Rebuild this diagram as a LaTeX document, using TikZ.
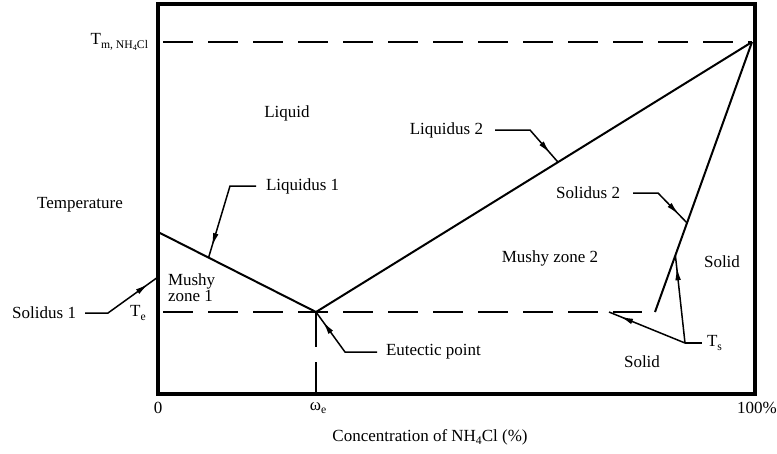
\documentclass[tikz,border=0pt]{standalone}
\usepackage{fontspec}
\setmainfont{Liberation Serif}
\usetikzlibrary{arrows.meta, calc, decorations.markings}

\newcommand{\lsub}[1]{\raisebox{-0.45ex}{\scriptsize #1}}
\newcommand{\llsub}[1]{\raisebox{-0.35ex}{\tiny #1}}

\begin{document}
\begin{tikzpicture}[
  x=0.6pt, y=-0.6pt,
  font=\fontsize{10.2}{9.6}\selectfont,
  frame/.style={line width=2pt},
  curve/.style={line width=1.2pt},
  guide/.style={line width=1.4pt, dash pattern=on 18pt off 9pt, dash phase=24pt},
  eutguide/.style={line width=1.1pt, dash pattern=on 21pt off 9pt},
  leader/.style={line width=0.9pt, postaction={decorate},
    decoration={markings,
      mark=at position #1 with {\arrow{Latex[length=8pt,width=3.4pt]}}}},
  leader/.default=-7pt,
  lbl/.style={inner sep=1pt}
]
  \useasboundingbox (0,0) rectangle (777,453);

  % frame of the diagram
  \draw[frame] (158,4) rectangle (755,394);

  % key points
  \coordinate (liqtop)  at (158,232);
  \coordinate (eut)     at (316,312);
  \coordinate (melt)    at (752,42);
  \coordinate (sol2end) at (655,312);
  \coordinate (tmstart) at (158,42);
  \coordinate (testart) at (158,312);
  \coordinate (teend)   at (642,312);
  \coordinate (eutbase) at (316,394);

  % guide lines (melting point, eutectic temperature, eutectic concentration)
  \draw[guide] (tmstart) -- (melt);
  \draw[guide] (testart) -- (teend);
  \draw[eutguide] (eut) -- (eutbase);

  % liquidus and solidus curves
  \draw[curve] (liqtop) -- (eut);
  \draw[curve] (eut) -- (melt);
  \draw[curve] (melt) -- (sol2end);

  % points hit by the leaders
  \coordinate (liq1hit) at ($(liqtop)!0.32!(eut)$);
  \coordinate (liq2hit) at ($(eut)!0.555!(melt)$);
  \coordinate (sol2hit) at ($(melt)!0.67!(sol2end)$);
  \coordinate (tsuphit) at ($(melt)!0.79!(sol2end)$);
  \coordinate (sol1hit) at (158,277);
  \coordinate (tslfhit) at (609,312);
  \coordinate (tsfork)  at (685,343);

  % region and curve labels
  \node[lbl, anchor=east] (tm) at (150,42) {T\lsub{m, NH\llsub{4}Cl}};
  \node[lbl] (liquid) at (287,113) {Liquid};
  \node[lbl] (temp) at (80,205) {Temperature};
  \node[lbl, anchor=west] (liq1) at (264,186) {Liquidus 1};
  \node[lbl, anchor=east] (liq2) at (485,130) {Liquidus 2};
  \node[lbl, anchor=east] (sol2) at (622,193) {Solidus 2};
  \node[lbl] (solidr) at (722,262) {Solid};
  \node[lbl] (mushy2) at (550,258) {Mushy zone 2};
  \node[lbl, align=left, anchor=north west] (mushy1) at (166,272) {Mushy\\zone 1};
  \node[lbl] (te) at (138,313) {T\lsub{e}};
  \node[lbl, anchor=east] (sol1) at (78,313) {Solidus 1};
  \node[lbl, anchor=west] (eutlbl) at (384,352) {Eutectic point};
  \node[lbl] (solidb) at (642,362) {Solid};
  \node[lbl, anchor=west] (ts) at (705,343) {T\lsub{s}};

  % axis labels
  \node[lbl] (zero) at (158,408) {0};
  \node[lbl] (omega) at (318,408) {ω\lsub{e}};
  \node[lbl] (full) at (757,408) {100\%};
  \node[lbl] (xlabel) at (430,437) {Concentration of NH\lsub{4}Cl (\%)};

  % leaders
  \draw[leader] ($(liq1.west)+(-8,0)$) -- ++(-26,0) -- (liq1hit);
  \draw[leader] ($(liq2.east)+(10,0)$) -- ++(35,0) -- (liq2hit);
  \draw[leader] ($(sol2.east)+(11,0)$) -- ++(25,0) -- (sol2hit);
  \draw[leader] ($(sol1.east)+(7,0)$) -- ++(23,0) -- (sol1hit);
  \draw[leader] ($(eutlbl.west)+(-7,0)$) -- ++(-32,0) -- (eut);
  \draw[curve, line width=0.9pt] (tsfork) -- ($(ts.west)+(-3,0)$);
  \draw[leader] (tsfork) -- (tslfhit);
  \draw[leader] (tsfork) -- (tsuphit);
\end{tikzpicture}
\end{document}
